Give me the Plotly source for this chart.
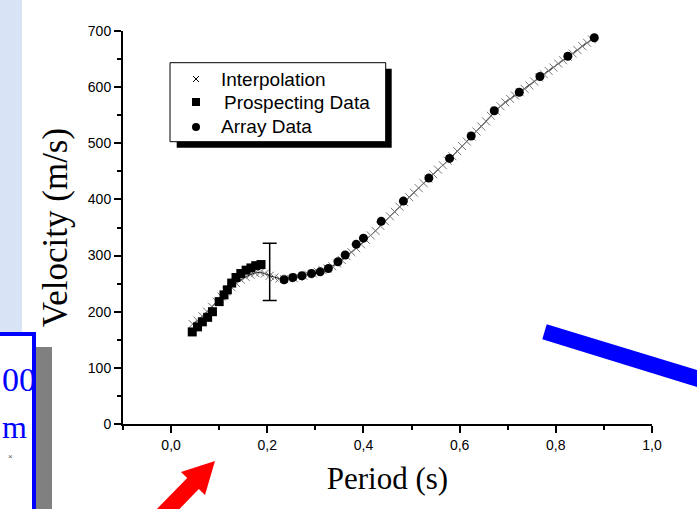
import plotly.graph_objects as go

# ---------------- data ----------------
interp_x = [0.045, 0.055, 0.065, 0.075, 0.085, 0.095, 0.105, 0.115, 0.125, 0.135,
            0.145, 0.155, 0.165, 0.175, 0.185, 0.195, 0.205, 0.215, 0.225, 0.235,
            0.245, 0.255, 0.265, 0.275, 0.285, 0.295, 0.305, 0.315, 0.325, 0.335,
            0.345, 0.355, 0.365, 0.375, 0.385, 0.395, 0.405, 0.415, 0.425, 0.435,
            0.445, 0.455, 0.465, 0.475, 0.485, 0.495, 0.505, 0.515, 0.525, 0.535,
            0.545, 0.555, 0.565, 0.575, 0.585, 0.595, 0.605, 0.615, 0.625, 0.635,
            0.645, 0.655, 0.665, 0.675, 0.685, 0.695, 0.705, 0.715, 0.725, 0.735,
            0.745, 0.755, 0.765, 0.775, 0.785, 0.795, 0.805, 0.815, 0.825, 0.835,
            0.845, 0.855, 0.865, 0.875]
interp_y = [178, 184, 192, 200, 209, 218, 227, 236, 244, 251,
            257, 262, 266, 269, 270, 268, 264, 261, 259, 258,
            259, 260, 262, 264, 266, 268, 271, 274, 277, 281,
            286, 292, 299, 306, 313, 320, 328, 336, 344, 353,
            361, 370, 378, 387, 395, 404, 412, 420, 429, 437,
            445, 453, 461, 469, 477, 486, 495, 503, 512, 521,
            530, 539, 549, 558, 566, 573, 579, 585, 591, 597,
            603, 610, 617, 623, 629, 635, 642, 648, 654, 660,
            666, 673, 679, 685]

prosp_x = [0.044, 0.055, 0.065, 0.076, 0.086, 0.100, 0.110, 0.117, 0.126, 0.135,
           0.145, 0.156, 0.166, 0.176, 0.187]
prosp_y = [164, 173, 182, 190, 200, 218, 230, 239, 251, 261,
           268, 274, 278, 282, 284]

array_x = [0.235, 0.253, 0.272, 0.292, 0.310, 0.327, 0.347, 0.362, 0.385, 0.400,
           0.437, 0.483, 0.536, 0.579, 0.624, 0.672, 0.724, 0.767, 0.825, 0.880]
array_y = [257, 261, 264, 268, 271, 277, 289, 301, 320, 331,
           361, 397, 438, 473, 513, 558, 591, 619, 655, 688]

errbar_x = [0.205]
errbar_y = [271]
errbar_e = [51]

legend_labels = ["Interpolation", "Prospecting Data", "Array Data"]

x_tickvals = [0.0, 0.2, 0.4, 0.6, 0.8, 1.0]
x_ticktext = ["0,0", "0,2", "0,4", "0,6", "0,8", "1,0"]
x_minor = [-0.1, 0.1, 0.3, 0.5, 0.7, 0.9]
y_tickvals = [0, 100, 200, 300, 400, 500, 600, 700]
y_minor = [50, 150, 250, 350, 450, 550, 650]

# ---------------- layout geometry (pixels) ----------------
W, H = 697, 509
L, R, T, B = 123, 652, 31, 424


def px(x):
    return (x - L) / (R - L)


def py(y):
    return (B - y) / (B - T)


def path(points):
    return "M " + " L ".join(f"{px(a):.5f},{py(b):.5f}" for a, b in points) + " Z"


def prect(x0, y0, x1, y1, **kw):
    return dict(type="rect", xref="paper", yref="paper",
                x0=px(x0), x1=px(x1), y0=py(y1), y1=py(y0), **kw)


SANS = "Liberation Sans, Arial, sans-serif"
SERIF = "Liberation Serif, Times New Roman, serif"

fig = go.Figure()

# interpolation line + markers
fig.add_trace(go.Scatter(x=interp_x, y=interp_y, mode="lines",
                         line=dict(color="black", width=1), name=legend_labels[0],
                         showlegend=False, hoverinfo="skip"))
fig.add_trace(go.Scatter(x=interp_x, y=interp_y, mode="markers", name=legend_labels[0],
                         showlegend=False,
                         marker=dict(symbol="x-thin", size=8, color="#777",
                                     line=dict(color="#777", width=1))))
fig.add_trace(go.Scatter(x=prosp_x, y=prosp_y, mode="markers", name=legend_labels[1],
                         showlegend=False,
                         marker=dict(symbol="square", size=9, color="black")))
fig.add_trace(go.Scatter(x=array_x, y=array_y, mode="markers", name=legend_labels[2],
                         showlegend=False,
                         marker=dict(symbol="circle", size=9, color="black")))
fig.add_trace(go.Scatter(x=errbar_x, y=errbar_y, mode="markers", showlegend=False,
                         marker=dict(size=1, color="rgba(0,0,0,0)"),
                         error_y=dict(type="data", array=errbar_e, visible=True,
                                      color="black", thickness=1.5, width=7)))

shapes = [
    # slide background strip on the left
    prect(-5, -5, 22, 332, fillcolor="#d8e4f6", line=dict(width=0), layer="below"),
    # bottom-left framed box with grey shadow
    prect(36, 347, 52, 520, fillcolor="#808080", line=dict(width=0), layer="above"),
    prect(-10, 334, 34, 520, fillcolor="white", line=dict(color="#0000ff", width=4), layer="above"),
    # blue stripe bottom-right
    dict(type="path", xref="paper", yref="paper", layer="above",
         path=path([(546.7, 324.3), (542.3, 339.3), (710, 391), (710, 374)]),
         fillcolor="#0000ff", line=dict(width=0)),
    # red arrow
    dict(type="path", xref="paper", yref="paper", layer="above",
         path=path([(215, 461), (205, 495.1), (198.8, 489.1), (168.8, 520),
                    (146.2, 520), (187.2, 477.9), (181, 471.9)]),
         fillcolor="#ff0000", line=dict(width=0)),
    # legend shadow and box
    prect(176.7, 68.7, 391.7, 147.7, fillcolor="black", line=dict(width=0), layer="above"),
    prect(170, 62.7, 385.7, 141.7, fillcolor="white", line=dict(color="black", width=1), layer="above"),
    # legend symbols
    dict(type="line", xref="paper", yref="paper", x0=px(193), y0=py(76), x1=px(199), y1=py(82),
         line=dict(color="black", width=1), layer="above"),
    dict(type="line", xref="paper", yref="paper", x0=px(193), y0=py(82), x1=px(199), y1=py(76),
         line=dict(color="black", width=1), layer="above"),
    prect(192, 98, 200, 106, fillcolor="black", line=dict(width=0), layer="above"),
    dict(type="circle", xref="paper", yref="paper", x0=px(192), x1=px(200), y0=py(131), y1=py(123),
         fillcolor="black", line=dict(width=0), layer="above"),
]

annotations = [
    dict(xref="paper", yref="paper", x=px(219), y=py(79), text=legend_labels[0], showarrow=False,
         xanchor="left", yanchor="middle", font=dict(family=SANS, size=19, color="black")),
    dict(xref="paper", yref="paper", x=px(222), y=py(102), text=legend_labels[1], showarrow=False,
         xanchor="left", yanchor="middle", font=dict(family=SANS, size=19, color="black")),
    dict(xref="paper", yref="paper", x=px(219), y=py(126), text=legend_labels[2], showarrow=False,
         xanchor="left", yanchor="middle", font=dict(family=SANS, size=19, color="black")),
    # slide fragments bottom-left
    dict(xref="paper", yref="paper", x=px(0), y=py(379), text="00", showarrow=False,
         xanchor="left", yanchor="middle", font=dict(family=SERIF, size=34, color="#0000ff")),
    dict(xref="paper", yref="paper", x=px(0), y=py(427), text="m", showarrow=False,
         xanchor="left", yanchor="middle", font=dict(family=SERIF, size=32, color="#0000ff")),
    dict(xref="paper", yref="paper", x=px(10), y=py(456), text="×", showarrow=False,
         xanchor="center", yanchor="middle", font=dict(family=SANS, size=8, color="#555")),
]

fig.update_layout(
    width=W, height=H,
    margin=dict(l=L, r=W - R, t=T, b=H - B, pad=0),
    paper_bgcolor="white", plot_bgcolor="white",
    shapes=shapes, annotations=annotations,
    showlegend=False,
    xaxis=dict(range=[-0.1, 1.0], showgrid=False, zeroline=False,
               showline=True, linecolor="black", linewidth=2,
               ticks="outside", ticklen=7, tickwidth=1.5, tickcolor="black",
               tickmode="array", tickvals=x_tickvals, ticktext=x_ticktext,
               minor=dict(tickmode="array", tickvals=x_minor, ticks="outside",
                          ticklen=4, tickwidth=1.5, tickcolor="black", showgrid=False),
               tickfont=dict(family=SANS, size=14, color="black"),
               title=dict(text="Period (s)", font=dict(family=SERIF, size=31, color="black"),
                          standoff=16)),
    yaxis=dict(range=[0, 700], showgrid=False, zeroline=False,
               showline=True, linecolor="black", linewidth=2,
               ticks="outside", ticklen=7, tickwidth=1.5, tickcolor="black",
               tickmode="array", tickvals=y_tickvals,
               minor=dict(tickmode="array", tickvals=y_minor, ticks="outside",
                          ticklen=4, tickwidth=1.5, tickcolor="black", showgrid=False),
               tickfont=dict(family=SANS, size=14, color="black"),
               title=dict(text="Velocity (m/s)", font=dict(family=SERIF, size=35, color="black"),
                          standoff=10)),
)

fig.write_html("out.html")
